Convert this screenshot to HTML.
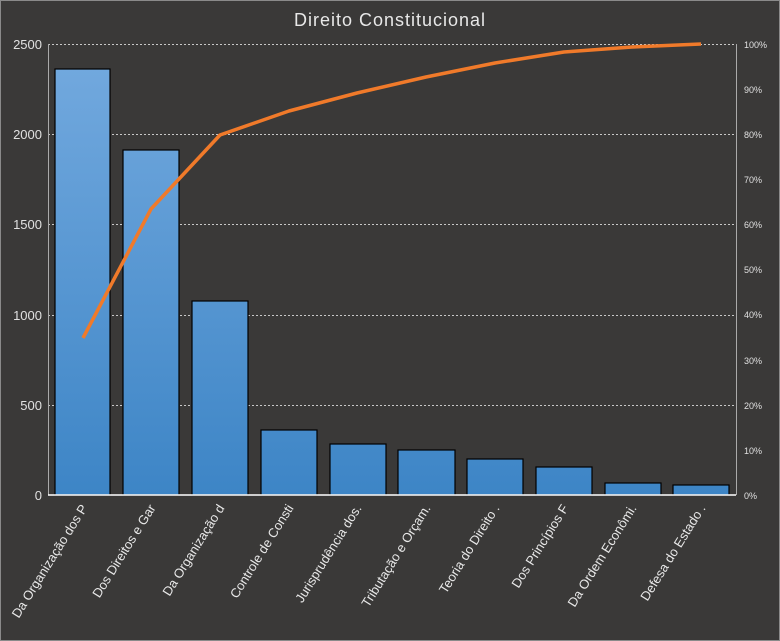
<!DOCTYPE html>
<html><head><meta charset="utf-8"><style>
html,body{margin:0;padding:0;background:#3a3938;}
svg{display:block;font-family:"Liberation Sans",sans-serif;}
</style></head><body>
<svg width="780" height="641" viewBox="0 0 780 641">
<defs>
<linearGradient id="g" gradientUnits="userSpaceOnUse" x1="0" y1="44" x2="0" y2="495">
<stop offset="0" stop-color="#74aadf"/><stop offset="1" stop-color="#3d85c6"/>
</linearGradient>
</defs>
<rect x="0" y="0" width="780" height="641" fill="#3a3938"/>
<rect x="0.5" y="0.5" width="779" height="640" fill="none" stroke="#8a8a8a"/>
<text x="390" y="26" fill="#e8e8e8" font-size="18" text-anchor="middle" letter-spacing="1">Direito Constitucional</text>
<g stroke="#c8c8c8" stroke-dasharray="2,2" stroke-width="1">
<line x1="48" y1="44.5" x2="736" y2="44.5"/>
<line x1="48" y1="134.5" x2="736" y2="134.5"/>
<line x1="48" y1="224.5" x2="736" y2="224.5"/>
<line x1="48" y1="315.5" x2="736" y2="315.5"/>
<line x1="48" y1="405.5" x2="736" y2="405.5"/>
</g>
<line x1="48.5" y1="44" x2="48.5" y2="495" stroke="#aaa"/>
<line x1="736.5" y1="44" x2="736.5" y2="495" stroke="#aaa"/>
<g fill="#e0e0e0" font-size="13" text-anchor="end">
<text x="42" y="49">2500</text><text x="42" y="139">2000</text><text x="42" y="229">1500</text>
<text x="42" y="320">1000</text><text x="42" y="410">500</text><text x="42" y="500">0</text>
</g>
<g fill="#e0e0e0" font-size="9">
<text x="744" y="48">100%</text><text x="744" y="93">90%</text><text x="744" y="138">80%</text>
<text x="744" y="183">70%</text><text x="744" y="228">60%</text><text x="744" y="273">50%</text>
<text x="744" y="318">40%</text><text x="744" y="364">30%</text><text x="744" y="409">20%</text>
<text x="744" y="454">10%</text><text x="744" y="499">0%</text>
</g>
<g fill="url(#g)" stroke="#000" stroke-width="1.2">
<rect x="55" y="69" width="55" height="426"/>
<rect x="123" y="150" width="56" height="345"/>
<rect x="192" y="301" width="56" height="194"/>
<rect x="261" y="430" width="56" height="65"/>
<rect x="330" y="444" width="56" height="51"/>
<rect x="398" y="450" width="57" height="45"/>
<rect x="467" y="459" width="56" height="36"/>
<rect x="536" y="467" width="56" height="28"/>
<rect x="605" y="483" width="56" height="12"/>
<rect x="673" y="485" width="56" height="10"/>
</g>
<line x1="48" y1="495" x2="736" y2="495" stroke="#fff" stroke-width="1.5"/>
<polyline points="83,338 151,209 220,135 289,111 357,93 426,77 495,63 564,52 632,47 701,44" fill="none" stroke="#f07a2a" stroke-width="3.5" stroke-linejoin="round"/>
<g fill="#e8e8e8" font-size="13" text-anchor="end">
<text transform="translate(88,508) rotate(-58)">Da Organização dos P</text>
<text transform="translate(156,508) rotate(-58)">Dos Direitos e Gar</text>
<text transform="translate(225,508) rotate(-58)">Da Organização d</text>
<text transform="translate(294,508) rotate(-58)">Controle de Consti</text>
<text transform="translate(362,508) rotate(-58)">Jurisprudência dos.</text>
<text transform="translate(431,508) rotate(-58)">Tributação e Orçam.</text>
<text transform="translate(500,508) rotate(-58)">Teoria do Direito .</text>
<text transform="translate(569,508) rotate(-58)">Dos Princípios F</text>
<text transform="translate(637,508) rotate(-58)">Da Ordem Econômi.</text>
<text transform="translate(706,508) rotate(-58)">Defesa do Estado .</text>
</g>
</svg>
</body></html>
